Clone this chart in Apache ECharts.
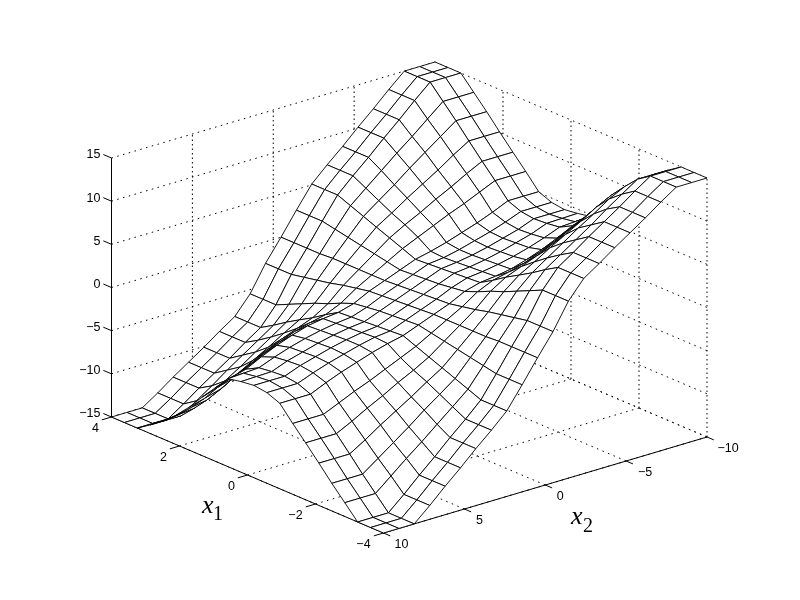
<!DOCTYPE html>
<html>
<head>
<meta charset="utf-8">
<title>surface</title>
<script src="https://cdn.jsdelivr.net/npm/echarts@6/dist/echarts.min.js"></script>
<style>
html, body { margin: 0; padding: 0; background: #fff; }
#chart { width: 800px; height: 600px; }
</style>
</head>
<body>
<div id="chart"></div>
<script>
// mesh positions
const x1Values = [4, 3.62, 3.24, 2.86, 2.48, 2.1, 1.71, 1.33, 0.95, 0.57, 0.19, -0.19, -0.57, -0.95, -1.33, -1.71, -2.1, -2.48, -2.86, -3.24, -3.62, -4]
const x2Values = [10, 9.05, 8.1, 7.14, 6.19, 5.24, 4.29, 3.33, 2.38, 1.43, 0.48, -0.48, -1.43, -2.38, -3.33, -4.29, -5.24, -6.19, -7.14, -8.1, -9.05, -10]

const x1Ticks = [4, 2, 0, -2, -4]
const x2Ticks = [10, 5, 0, -5, -10]
const zTicks = [-15, -10, -5, 0, 5, 10, 15]

// one row per x2 value, one column per x1 value
const surfaceZ = [
    [-15, -15, -15, -14, -12.9, -11.6, -10, -8.2, -6.5, -4.8, -4.5, -4.3, -4.5, -5.1, -6.8, -8.4, -10.1, -11.8, -13.4, -15, -15, -15],
    [-15, -15, -15, -14, -12.7, -11.2, -9.5, -7.6, -5.9, -4.7, -4.45, -4.3, -4.5, -5.1, -6.8, -8.4, -10.1, -11.8, -13.4, -15, -15, -15],
    [-15, -15, -15, -14, -12.5, -10.9, -9, -7.1, -5.4, -4.6, -4.4, -4.3, -4.5, -5.1, -6.8, -8.4, -10.1, -11.8, -13.4, -15, -15, -15],
    [-13.8, -13.8, -13.8, -12.8, -11.6, -10, -8, -6.2, -4.5, -3.9, -3.7, -3.6, -3.8, -4.3, -6, -7.5, -9, -10.5, -11.9, -13.4, -13.4, -13.4],
    [-12.5, -12.5, -12.5, -11.6, -10.4, -8.9, -7.1, -5.3, -3.7, -3.3, -3.2, -3.1, -3.2, -3.6, -5.2, -6.5, -7.8, -9.2, -10.4, -11.7, -11.7, -11.7],
    [-11.3, -11.3, -11.3, -10.3, -9.3, -7.9, -6.1, -4.5, -3.05, -2.8, -2.7, -2.6, -2.7, -3, -4.5, -5.6, -6.7, -7.9, -9, -10.1, -10.1, -10.1],
    [-10.1, -10.1, -10.1, -9.1, -8.1, -6.9, -5.3, -3.8, -2.5, -2.4, -2.3, -2.2, -2.2, -2.4, -3.7, -4.6, -5.6, -6.5, -7.5, -8.4, -8.4, -8.4],
    [-8.8, -8.8, -8.8, -7.9, -6.9, -5.8, -4.6, -3.3, -2.2, -2.1, -2, -1.9, -1.8, -1.9, -2.9, -3.7, -4.4, -5.2, -6, -6.8, -6.8, -6.8],
    [-7.6, -7.6, -7.6, -6.7, -5.7, -4.8, -3.9, -2.9, -2, -1.9, -1.8, -1.7, -1.6, -1.5, -2.1, -2.7, -3.3, -3.9, -4.5, -5.1, -5.1, -5.1],
    [-5.5, -5.5, -5.5, -4.8, -4.1, -3.4, -2.8, -2.1, -1.5, -1.3, -1.1, -1, -0.9, -0.8, -1.1, -1.4, -1.7, -2, -2.3, -2.6, -2.6, -2.6],
    [-2.5, -2.5, -2.5, -2.2, -1.9, -1.6, -1.2, -0.9, -0.6, -0.5, -0.4, -0.3, -0.2, -0.1, -0.1, -0.1, -0.1, -0.1, 0, 0, 0, 0],
    [0, 0, 0, 0, 0.1, 0.1, 0.1, 0.1, 0.1, 0.2, 0.3, 0.4, 0.5, 0.6, 0.9, 1.2, 1.6, 1.9, 2.2, 2.5, 2.5, 2.5],
    [2.6, 2.6, 2.6, 2.3, 2, 1.7, 1.4, 1.1, 0.8, 0.9, 1, 1.1, 1.3, 1.5, 2.1, 2.8, 3.4, 4.1, 4.8, 5.5, 5.5, 5.5],
    [5.1, 5.1, 5.1, 4.5, 3.9, 3.3, 2.7, 2.1, 1.5, 1.6, 1.7, 1.8, 1.9, 2, 2.9, 3.9, 4.8, 5.7, 6.7, 7.6, 7.6, 7.6],
    [6.8, 6.8, 6.8, 6, 5.2, 4.4, 3.7, 2.9, 1.9, 1.8, 1.9, 2, 2.1, 2.2, 3.3, 4.6, 5.8, 6.9, 7.9, 8.8, 8.8, 8.8],
    [8.4, 8.4, 8.4, 7.5, 6.5, 5.6, 4.6, 3.7, 2.4, 2.2, 2.2, 2.3, 2.4, 2.5, 3.8, 5.3, 6.9, 8.1, 9.1, 10.1, 10.1, 10.1],
    [10.1, 10.1, 10.1, 9, 7.9, 6.7, 5.6, 4.5, 3, 2.7, 2.6, 2.7, 2.8, 3.05, 4.5, 6.1, 7.9, 9.3, 10.3, 11.3, 11.3, 11.3],
    [11.7, 11.7, 11.7, 10.4, 9.2, 7.8, 6.5, 5.2, 3.6, 3.2, 3.1, 3.2, 3.3, 3.7, 5.3, 7.1, 8.9, 10.4, 11.6, 12.5, 12.5, 12.5],
    [13.4, 13.4, 13.4, 11.9, 10.5, 9, 7.5, 6, 4.3, 3.8, 3.6, 3.7, 3.9, 4.5, 6.2, 8, 10, 11.6, 12.8, 13.8, 13.8, 13.8],
    [15, 15, 15, 13.4, 11.8, 10.1, 8.4, 6.8, 5.1, 4.5, 4.3, 4.4, 4.6, 5.4, 7.1, 9, 10.9, 12.5, 14, 15, 15, 15],
    [15, 15, 15, 13.4, 11.8, 10.1, 8.4, 6.8, 5.1, 4.5, 4.3, 4.45, 4.7, 5.9, 7.6, 9.5, 11.2, 12.7, 14, 15, 15, 15],
    [15, 15, 15, 13.4, 11.8, 10.1, 8.4, 6.8, 5.1, 4.5, 4.3, 4.5, 4.8, 6.5, 8.2, 10, 11.6, 12.9, 14, 15, 15, 15]
]

// orthographic view, measured from the box corners
function project(x1, x2, z) {
    return [
        111.5 + 34 * (4 - x1) + 16.175 * (10 - x2),
        417 + 14.5 * (4 - x1) - 4.8 * (10 - x2) - 8.633 * (z + 15)
    ]
}

function fmt(v) {
    return v < 0 ? '\u2212' + (-v) : String(v)
}

// dotted box lines
const gridSegments = []
zTicks.forEach(z => {
    gridSegments.push([[4, 10, z], [4, -10, z]])
    gridSegments.push([[4, -10, z], [-4, -10, z]])
})
x2Ticks.forEach(v => {
    if (v !== 10) gridSegments.push([[4, v, -15], [4, v, 15]])
    gridSegments.push([[4, v, -15], [-4, v, -15]])
})
x1Ticks.forEach(v => {
    if (v !== 4) gridSegments.push([[v, -10, -15], [v, -10, 15]])
    gridSegments.push([[v, 10, -15], [v, -10, -15]])
})

// solid axes and tick marks
const axisSegments = [
    [[4, 10, -15], [4, 10, 15]],
    [[4, 10, -15], [-4, 10, -15]],
    [[-4, 10, -15], [-4, -10, -15]]
]
zTicks.forEach(z => axisSegments.push([[4, 10, z], [4.24, 10, z]]))
x1Ticks.forEach(v => axisSegments.push([[v, 10, -15], [v, 10.6, -15]]))
x2Ticks.forEach(v => axisSegments.push([[-4, v, -15], [-4.2, v, -15]]))

// tick label: anchor in data space plus pixel offset
const tickTexts = []
zTicks.forEach(z => tickTexts.push({ p: [4, 10, z], dx: -11, dy: -3, text: fmt(z), align: 'right' }))
x1Ticks.forEach(v => tickTexts.push({ p: [v, 10, -15], dx: v < 0 ? -20 : -16, dy: 12, text: fmt(v), align: 'center' }))
x2Ticks.forEach(v => tickTexts.push({ p: [-4, v, -15], dx: v === -10 ? 21 : v === 10 ? 18 : v < 0 ? 19 : 15, dy: 12, text: fmt(v), align: 'center' }))

// far cells first so nearer ones paint over them
const cells = []
for (let j = x2Values.length - 2; j >= 0; j--) {
    for (let i = 0; i < x1Values.length - 1; i++) {
        cells.push([i, j])
    }
}

function segmentSeries(segments, style, zLevel) {
    return {
        type: 'custom',
        coordinateSystem: 'cartesian2d',
        silent: true,
        clip: false,
        z: zLevel,
        data: segments.map((s, k) => [k, 0]),
        renderItem(params, api) {
            const seg = segments[params.dataIndex]
            const a = api.coord(project(seg[0][0], seg[0][1], seg[0][2]))
            const b = api.coord(project(seg[1][0], seg[1][1], seg[1][2]))
            const vertical = Math.abs(a[0] - b[0]) < 0.5
            return {
                type: 'line',
                shape: { x1: a[0], y1: a[1], x2: b[0], y2: b[1] },
                style: {
                    stroke: '#000',
                    lineWidth: style.width,
                    lineDash: style.dotted ? (vertical ? [1.5, 3] : [1.5, 4.5]) : null
                }
            }
        }
    }
}

const chart = echarts.init(document.getElementById('chart'), null, { renderer: 'canvas' })

chart.setOption({
    animation: false,
    backgroundColor: '#fff',
    grid: { left: 0, right: 0, top: 0, bottom: 0 },
    xAxis: { type: 'value', min: 0, max: 800, show: false },
    yAxis: { type: 'value', min: 0, max: 600, inverse: true, show: false },
    series: [
        segmentSeries(gridSegments, { width: 1, dotted: true }, 1),
        segmentSeries(axisSegments, { width: 1, dotted: false }, 2),
        {
            type: 'custom',
            coordinateSystem: 'cartesian2d',
            silent: true,
            clip: false,
            z: 3,
            data: cells,
            renderItem(params, api) {
                const i = api.value(0)
                const j = api.value(1)
                const corners = [[i, j], [i + 1, j], [i + 1, j + 1], [i, j + 1]]
                const points = corners.map(c => api.coord(project(x1Values[c[0]], x2Values[c[1]], surfaceZ[c[1]][c[0]])))
                return {
                    type: 'polygon',
                    shape: { points: points },
                    style: { fill: '#fff', stroke: '#000', lineWidth: 0.9 }
                }
            }
        },
        {
            type: 'custom',
            coordinateSystem: 'cartesian2d',
            silent: true,
            clip: false,
            z: 4,
            data: tickTexts.map((t, k) => [k, 0]),
            renderItem(params, api) {
                const t = tickTexts[params.dataIndex]
                const p = api.coord(project(t.p[0], t.p[1], t.p[2]))
                return {
                    type: 'text',
                    x: p[0] + t.dx,
                    y: p[1] + t.dy,
                    style: {
                        text: t.text,
                        fill: '#000',
                        font: '12.5px "Liberation Sans", Arial, sans-serif',
                        align: t.align,
                        verticalAlign: 'middle'
                    }
                }
            }
        }
    ],
    graphic: [
        { type: 'text', left: 202, top: 493, style: { text: 'x', fill: '#000', font: 'italic 26px "Liberation Serif", serif' } },
        { type: 'text', left: 213, top: 505, style: { text: '1', fill: '#000', font: '20px "Liberation Serif", serif' } },
        { type: 'text', left: 571, top: 504, style: { text: 'x', fill: '#000', font: 'italic 26px "Liberation Serif", serif' } },
        { type: 'text', left: 583, top: 517, style: { text: '2', fill: '#000', font: '20px "Liberation Serif", serif' } }
    ]
})
</script>
</body>
</html>
